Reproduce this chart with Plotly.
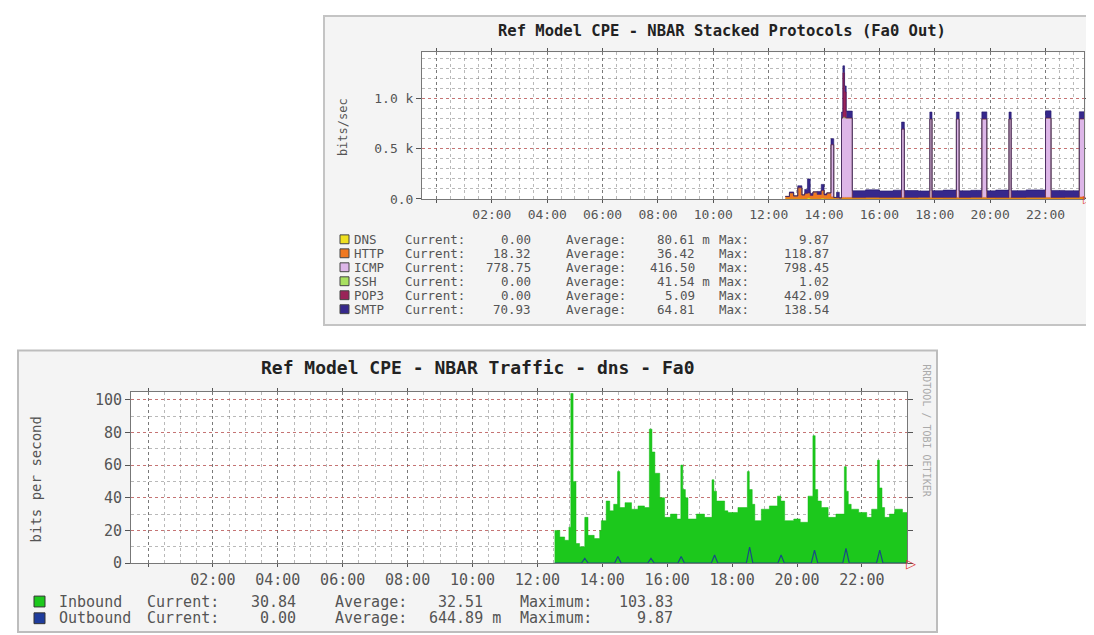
import plotly.graph_objects as go

W, H = 1094, 635
def fx(x): return x / W
def fy(y): return 1 - y / H

MONO = "DejaVu Sans Mono"

# ---------------- data: top chart (NBAR stacked protocols) ----------------
top_t = [12.60, 12.75, 12.90, 13.05, 13.20, 13.30, 13.40, 13.50, 13.60, 13.75,
         13.90, 14.00, 14.10, 14.25, 14.35, 14.45, 14.55, 14.63, 14.68, 14.74,
         14.80, 15.02, 15.50, 16.00, 16.50, 16.80, 16.90, 17.40, 17.82, 17.90,
         18.30, 18.78, 18.88, 19.30, 19.70, 19.88, 20.20, 20.68, 20.76, 21.30,
         22.00, 22.20, 22.70, 23.22, 23.50]
dns  = [0, 0, 0, 0, 0, 0, 9.87, 0, 0, 0,
        5, 0, 0, 0, 0, 0, 0, 0, 0, 0,
        0, 0, 0, 0, 0, 0, 0, 0, 0, 0,
        0, 0, 0, 0, 0, 0, 0, 0, 0, 0,
        0, 0, 0, 0, 0]
http = [25, 60, 30, 110, 40, 55, 50, 35, 70, 45,
        80, 40, 60, 20, 15, 12, 10, 15, 15, 15,
        15, 14, 16, 14, 15, 15, 14, 16, 15, 15,
        14, 15, 15, 16, 15, 15, 14, 15, 15, 16,
        15, 15, 16, 18.32, 18.32]
icmp = [0, 0, 0, 0, 0, 0, 0, 0, 0, 0,
        0, 0, 0, 520, 0, 0, 0, 790, 798.45, 790,
        790, 0, 0, 0, 0, 680, 0, 0, 780, 0,
        0, 780, 0, 0, 780, 0, 0, 780, 0, 0,
        790, 0, 0, 778.75, 778.75]
ssh  = [0, 0, 0, 1.02, 0, 0, 0, 0, 0, 0,
        0, 0, 0, 0, 0, 0, 0, 0, 0, 0,
        0, 0, 0, 0, 0, 0, 0, 0, 0, 0,
        0, 0, 0, 0, 0, 0, 0, 0, 0, 0,
        0, 0, 0, 0, 0]
pop3 = [0, 0, 0, 0, 0, 0, 0, 0, 0, 0,
        0, 0, 0, 0, 0, 0, 0, 0, 442.09, 260,
        0, 0, 0, 0, 0, 0, 0, 0, 0, 0,
        0, 0, 0, 0, 0, 0, 0, 0, 0, 0,
        0, 0, 0, 0, 0]
smtp = [0, 10, 0, 20, 0, 40, 138.54, 20, 0, 30,
        60, 10, 0, 60, 0, 55, 0, 60, 70, 60,
        70, 68, 75, 66, 72, 70, 70, 64, 70, 68,
        74, 70, 66, 70, 72, 66, 74, 70, 68, 74,
        72, 70, 66, 70.93, 70.93]

top_names = ["DNS", "HTTP", "ICMP", "SSH", "POP3", "SMTP"]
top_series = [dns, http, icmp, ssh, pop3, smtp]
top_colors = ["#EFE020", "#F07820", "#DDB6E8", "#A8E060", "#9A2458", "#36288C"]
top_edges  = ["#C8B800", "#D86010", "#C79AD8", "#80C040", "#7A1040", "#24186A"]
top_cur = ["0.00", "18.32", "778.75", "0.00", "0.00", "70.93"]
top_avg = ["80.61 m", "36.42", "416.50", "41.54 m", "5.09", "64.81"]
top_max = ["9.87", "118.87", "798.45", "1.02", "442.09", "138.54"]
top_ytick_vals = [0, 500, 1000]
top_ytick_text = ["0.0", "0.5 k", "1.0 k"]

# ---------------- data: bottom chart (NBAR traffic - dns) ----------------
in_t = [12.53, 12.69, 12.84, 12.97, 13.03, 13.10, 13.19, 13.30, 13.46, 13.56,
        13.75, 13.92, 13.97, 14.12, 14.23, 14.35, 14.47, 14.54, 14.70, 14.90,
        15.10, 15.30, 15.45, 15.53, 15.62, 15.77, 15.92, 16.10, 16.30, 16.42,
        16.48, 16.56, 16.64, 16.90, 17.15, 17.38, 17.44, 17.52, 17.77, 17.87,
        18.18, 18.47, 18.53, 18.62, 18.70, 18.90, 19.15, 19.40, 19.50, 19.62,
        19.90, 20.10, 20.34, 20.49, 20.56, 20.64, 20.75, 20.96, 21.20, 21.46,
        21.52, 21.58, 21.67, 21.90, 22.15, 22.30, 22.48, 22.54, 22.62, 22.70,
        22.85, 23.01, 23.25, 23.42]
inbound = [20, 16, 14, 22, 103.83, 50, 12, 10, 28, 17,
           15, 20, 26, 38, 32, 36, 56, 34, 37, 33,
           35, 34, 82, 68, 55, 40, 28, 30, 27, 60,
           45, 40, 27, 30, 28, 51, 44, 38, 32, 31,
           34, 56, 45, 36, 26, 33, 35, 41, 38, 26,
           27, 25, 41, 78, 45, 38, 34, 28, 30, 59,
           44, 36, 33, 31, 28, 33, 63, 46, 34, 28,
           30, 33, 31, 30.84]
out_t = [12.53, 13.36, 13.46, 13.56, 14.38, 14.48, 14.58, 15.40, 15.50, 15.60,
         16.33, 16.43, 16.53, 17.36, 17.46, 17.56, 18.44, 18.54, 18.64, 19.41,
         19.51, 19.61, 20.44, 20.54, 20.64, 21.41, 21.51, 21.61, 22.45, 22.55,
         22.65, 23.42]
outbound = [0, 0, 3, 0, 0, 4, 0, 0, 3, 0,
            0, 4, 0, 0, 5, 0, 0, 9.87, 0, 0,
            5, 0, 0, 8, 0, 0, 9, 0, 0, 8,
            0, 0]

bot_names = ["Inbound", "Outbound"]
bot_colors = ["#1CC81C", "#1E3C9C"]
bot_cur = ["30.84", "0.00"]
bot_avg = ["32.51", "644.89 m"]
bot_max = ["103.83", "9.87"]
bot_ytick_vals = [0, 20, 40, 60, 80, 100]

hour_vals = list(range(0, 24, 2))
hour_text = ["" if h == 0 else f"{h:02d}:00" for h in hour_vals]

# ---------------- figure ----------------
fig = go.Figure()

for name, vals, col, edge in zip(top_names, top_series, top_colors, top_edges):
    fig.add_trace(go.Scatter(
        x=top_t, y=vals, name=name, stackgroup="top", mode="lines",
        line=dict(shape="hv", width=0.6, color=edge), fillcolor=col,
        xaxis="x", yaxis="y", showlegend=False, hoverinfo="skip"))

fig.add_trace(go.Scatter(
    x=in_t, y=inbound, name="Inbound", mode="lines", fill="tozeroy",
    line=dict(shape="hv", width=0.5, color="#12B812"), fillcolor=bot_colors[0],
    xaxis="x2", yaxis="y2", showlegend=False, hoverinfo="skip"))
fig.add_trace(go.Scatter(
    x=out_t, y=outbound, name="Outbound", mode="lines",
    line=dict(width=1.2, color="#1A4A86"),
    xaxis="x2", yaxis="y2", showlegend=False, hoverinfo="skip"))

MAJ_X = "rgba(80,80,80,0.6)"
MAJ_Y = "rgba(205,70,70,0.6)"
MIN = "rgba(100,100,100,0.45)"

def xax(domain, fsize, anchor):
    return dict(domain=domain, anchor=anchor, range=[-0.524, 23.39],
                tickmode="array", tickvals=hour_vals, ticktext=hour_text,
                ticks="outside", ticklen=3, tickcolor="#555",
                showline=True, linecolor="#777", linewidth=1, mirror="ticks",
                showgrid=True, gridcolor=MAJ_X, griddash="dot", gridwidth=1,
                minor=dict(tickmode="linear", tick0=0, dtick=0.5, showgrid=True,
                           gridcolor=MIN, griddash="dot", gridwidth=1, ticks=""),
                zeroline=False, fixedrange=True,
                tickfont=dict(family=MONO, size=fsize, color="#555"))

def yax(domain, rng, vals, text, mdt, fsize, anchor):
    return dict(domain=domain, anchor=anchor, range=rng,
                tickmode="array", tickvals=vals, ticktext=text,
                ticks="outside", ticklen=5, tickcolor="#555",
                showline=True, linecolor="#777", linewidth=1, mirror="ticks",
                showgrid=True, gridcolor=MAJ_Y, griddash="dot", gridwidth=1,
                minor=dict(tickmode="linear", tick0=0, dtick=mdt, showgrid=True,
                           gridcolor=MIN, griddash="dot", gridwidth=1, ticks=""),
                zeroline=False, fixedrange=True,
                tickfont=dict(family=MONO, size=fsize, color="#555"))

shapes = [
    # panels
    dict(type="rect", xref="paper", yref="paper", x0=fx(316), x1=fx(1112),
         y0=fy(321), y1=fy(7), fillcolor="#F4F4F4",
         line=dict(color="#C4C4C4", width=2), layer="below"),
    dict(type="rect", xref="paper", yref="paper", x0=fx(10), x1=fx(929),
         y0=fy(633), y1=fy(347), fillcolor="#F4F4F4",
         line=dict(color="#BDBDBD", width=2), layer="below"),
    # white plot areas
    dict(type="rect", xref="x domain", yref="y domain", x0=0, x1=1, y0=0, y1=1,
         fillcolor="white", line=dict(width=0), layer="below"),
    dict(type="rect", xref="x2 domain", yref="y2 domain", x0=0, x1=1, y0=0, y1=1,
         fillcolor="white", line=dict(width=0), layer="below"),
]

ann = []
def text(x, y, s, size, xanchor="left", color="#555", weight="normal", angle=0):
    ann.append(dict(x=fx(x), y=fy(y), xref="paper", yref="paper", text=s,
                    showarrow=False, xanchor=xanchor, yanchor="middle",
                    textangle=angle, borderpad=0,
                    font=dict(family=MONO, size=size, color=color, weight=weight)))

# titles
text(714, 22, "Ref Model CPE - NBAR Stacked Protocols (Fa0 Out)", 15.5,
     xanchor="center", color="#222", weight="bold")
text(469, 364, "Ref Model CPE - NBAR Traffic - dns - Fa0", 18,
     xanchor="center", color="#222", weight="bold")
# axis titles
text(335, 120, "bits/sec", 12, xanchor="center", angle=-90)
text(28, 478, "bits per second", 14, xanchor="center", angle=-90)
# rrdtool watermark
text(1083, 60, "RRDTOOL / TOBI OETIKER", 6.5, xanchor="center", color="#AAA", angle=90)
text(919, 428, "RRDTOOL / TOBI OETIKER", 10, xanchor="center", color="#AAA", angle=90)
# axis arrows
ann.append(dict(x=1, y=0, xref="x domain", yref="y", text="▷", showarrow=False,
                xanchor="left", yanchor="middle", xshift=-3,
                font=dict(size=11, color="#E03030")))
ann.append(dict(x=1, y=0, xref="x2 domain", yref="y2", text="▷", showarrow=False,
                xanchor="left", yanchor="middle", xshift=-3,
                font=dict(size=13, color="#E03030")))

def fmt_avg(s):
    return s if s.endswith(" m") else s + "\u00a0\u00a0"

# top legend
for i, name in enumerate(top_names):
    yy = 234 + 14.2 * i
    shapes.append(dict(type="rect", xref="paper", yref="paper",
                       x0=fx(332), x1=fx(341), y0=fy(yy + 4.5), y1=fy(yy - 4.5),
                       fillcolor=top_colors[i], line=dict(color="#444", width=1)))
    text(345, yy, name, 12.5)
    text(396, yy, "Current:", 12.5)
    text(524, yy, top_cur[i], 12.5, xanchor="right")
    text(557, yy, "Average:", 12.5)
    text(703, yy, fmt_avg(top_avg[i]), 12.5, xanchor="right")
    text(710, yy, "Max:", 12.5)
    text(822, yy, top_max[i], 12.5, xanchor="right")

# bottom legend
for i, name in enumerate(bot_names):
    yy = 602 + 17 * i
    shapes.append(dict(type="rect", xref="paper", yref="paper",
                       x0=fx(26), x1=fx(37), y0=fy(yy + 5.5), y1=fy(yy - 5.5),
                       fillcolor=bot_colors[i], line=dict(color="#333", width=1)))
    text(50, yy, name, 15)
    text(138, yy, "Current:", 15)
    text(289, yy, bot_cur[i], 15, xanchor="right")
    text(326, yy, "Average:", 15)
    text(494, yy, fmt_avg(bot_avg[i]), 15, xanchor="right")
    text(511, yy, "Maximum:", 15)
    text(666, yy, bot_max[i], 15, xanchor="right")

fig.update_layout(
    width=W, height=H, autosize=False,
    margin=dict(l=0, r=0, t=0, b=0),
    paper_bgcolor="white", plot_bgcolor="white",
    showlegend=False,
    xaxis=xax([fx(414), fx(1076)], 13, "y"),
    yaxis=yax([fy(193), fy(44)], [0, 1460], top_ytick_vals, top_ytick_text, 100, 13, "x"),
    xaxis2=xax([fx(123), fx(899)], 15, "y2"),
    yaxis2=yax([fy(563), fy(389)], [0, 104.8], bot_ytick_vals,
               [str(v) for v in bot_ytick_vals], 10, 15, "x2"),
    shapes=shapes, annotations=ann,
)

fig.write_html("out.html")
